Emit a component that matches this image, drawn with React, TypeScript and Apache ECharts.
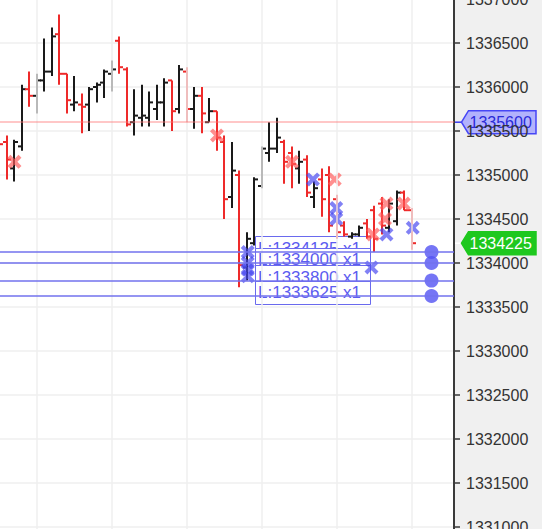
import React, { useEffect, useRef } from "react";
import * as echarts from "echarts";

// OHLC bars, left to right (bar position = array index)
const openP = [
  1335400, 1335375, 1335075, 1335325, 1335975, 1335900, 1336075, 1336175, 1336600, 1336150,
  1335800, 1335800, 1335800, 1336000, 1336050, 1336150, 1336525, 1336200, 1335600, 1335650,
  1335650, 1335750, 1335825, 1336075, 1335750, 1336175, 1335750, 1335900, 1335600, 1335725,
  1335375, 1334750, 1335000, 1333950, 1334225, 1334875, 1335250, 1335300, 1335375, 1335250,
  1335075, 1335175, 1334750, 1334950, 1335000, 1334725, 1334425, 1334300, 1334325, 1334450,
  1334600, 1334675, 1334400, 1334475, 1334800, 1334600,
];
const highP = [
  1335475, 1335450, 1335400, 1336025, 1336175, 1336150, 1336550, 1336675, 1336825, 1336150,
  1336125, 1335925, 1336000, 1336050, 1336200, 1336300, 1336575, 1336225, 1335975, 1336025,
  1335950, 1336025, 1336100, 1336075, 1336250, 1336225, 1336000, 1336000, 1335875, 1335725,
  1335450, 1335375, 1335050, 1334350, 1334975, 1335325, 1335600, 1335650, 1335400, 1335325,
  1335275, 1335225, 1334925, 1335075, 1335100, 1334775, 1334475, 1334350, 1334425, 1334500,
  1334650, 1334750, 1334725, 1334825, 1334825, 1334625,
];
const lowP = [
  1335200, 1334950, 1334925, 1335275, 1335775, 1335700, 1335950, 1336125, 1336025, 1335700,
  1335725, 1335475, 1335500, 1335825, 1335875, 1335950, 1336150, 1335550, 1335450, 1335550,
  1335550, 1335625, 1335550, 1335500, 1335700, 1335600, 1335525, 1335475, 1335600, 1335275,
  1334500, 1334625, 1333725, 1333800, 1334200, 1334850, 1335150, 1335250, 1334900, 1334850,
  1334900, 1334750, 1334625, 1334525, 1334350, 1334275, 1334300, 1334275, 1334300, 1334275,
  1334125, 1334325, 1334350, 1334425, 1334600, 1334150,
];
const closeP = [
  1335350, 1335175, 1335375, 1335975, 1335900, 1336075, 1336175, 1336575, 1336150, 1335850,
  1335825, 1335775, 1335975, 1336025, 1336175, 1336200, 1336225, 1335575, 1335675, 1335675,
  1335825, 1335825, 1336050, 1335725, 1336200, 1335750, 1335900, 1335700, 1335725, 1335425,
  1334725, 1335050, 1333975, 1334275, 1334950, 1335300, 1335300, 1335425, 1335150, 1335125,
  1335150, 1334800, 1334850, 1334725, 1334425, 1334350, 1334325, 1334325, 1334400, 1334300,
  1334275, 1334425, 1334675, 1334800, 1334600, 1334225,
];

// trade markers (x = bar position, y = price)
const redMarkX = [2, 29, 39, 44.7, 51.6, 51.4, 53.9, 49.8];
const redMarkY = [1335150, 1335450, 1335150, 1334950, 1334675, 1334500, 1334675, 1334325];
const blueMarkX = [41.8, 44.9, 44.9, 51.6, 55.1, 49.6, 33.1, 33.1, 33.1, 33.1];
const blueMarkY = [1334950, 1334625, 1334500, 1334325, 1334400, 1333950, 1334125, 1334000, 1333925, 1333850];

// pending orders
const orderPrices = [1334125, 1334000, 1333800, 1333625];
const orderLabels = ["L:1334125 x1", "L:1334000 x1", "L:1333800 x1", "L:1333625 x1"];
const orderDotX = 57.6;
const orderBoxX = 34.1;

const alertPrice = 1335600;
const alertLabel = "1335600";
const lastPrice = 1334225;
const lastLabel = "1334225";

const gridXs = [5, 15, 25, 35, 45, 55];
const xMin = 0.07;
const xMax = 60.6;
const yMin = 1330500;
const yMax = 1337500;
const yStep = 500;

const RED = "#ee2a2a";
const BLACK = "#1a1a1a";
const FONT = "'Liberation Sans', Arial, sans-serif";
const xPathSym =
  "path://M0,2.5L2.5,0L6,3.5L9.5,0L12,2.5L8.5,6L12,9.5L9.5,12L6,8.5L2.5,12L0,9.5L3.5,6Z";

export default function App() {
  const ref = useRef<HTMLDivElement>(null);

  useEffect(() => {
    if (!ref.current) return;
    const chart = echarts.init(ref.current, undefined, { renderer: "svg" });

    const ohlc = openP.map((o, i) => [i, o, closeP[i], lowP[i], highP[i]]);

    chart.setOption({
      animation: false,
      grid: {
        left: 0,
        right: 88,
        top: 0,
        bottom: 0,
        show: true,
        backgroundColor: "#ffffff",
        borderWidth: 0,
        containLabel: false,
        outerBoundsMode: "none",
      },
      xAxis: {
        type: "value",
        min: xMin,
        max: xMax,
        show: false,
        splitLine: { show: false },
      },
      yAxis: {
        type: "value",
        position: "right",
        min: yMin,
        max: yMax,
        interval: yStep,
        axisLine: { show: true, lineStyle: { color: "#3a3a3a", width: 2 } },
        axisTick: { show: true, length: 6, inside: false, lineStyle: { color: "#3a3a3a", width: 1.5 } },
        axisLabel: {
          color: "#333",
          fontSize: 16,
          fontFamily: FONT,
          margin: 12,
          formatter: (v: number) => String(v),
        },
        splitLine: { show: true, lineStyle: { color: "#efefef", width: 1.5 } },
      },
      series: [
        {
          type: "line",
          data: [],
          z: 1,
          silent: true,
          markLine: {
            silent: true,
            symbol: "none",
            label: { show: false },
            lineStyle: { color: "#efefef", width: 1.5, type: "solid" },
            data: gridXs.map((x) => ({ xAxis: x })),
          },
        },
        {
          type: "line",
          data: [],
          z: 2,
          silent: true,
          markLine: {
            silent: true,
            symbol: "none",
            label: { show: false },
            lineStyle: { color: "rgba(255,120,120,0.55)", width: 1.5, type: "solid" },
            data: [{ yAxis: alertPrice }],
          },
        },
        {
          type: "line",
          data: [],
          z: 2,
          silent: true,
          markLine: {
            silent: true,
            symbol: "none",
            label: { show: false },
            lineStyle: { color: "#7272ee", width: 1.6, type: "solid" },
            data: orderPrices.map((p) => ({ yAxis: p })),
          },
        },
        {
          type: "custom",
          z: 3,
          data: ohlc,
          encode: { x: 0, y: [1, 2, 3, 4] },
          renderItem: (params: any, api: any) => {
            const x = api.value(0);
            const o = api.coord([x, api.value(1)]);
            const c = api.coord([x, api.value(2)]);
            const l = api.coord([x, api.value(3)]);
            const h = api.coord([x, api.value(4)]);
            const color = api.value(2) < api.value(1) ? RED : BLACK;
            const px = Math.round(o[0]);
            const st = { stroke: color, lineWidth: 2 };
            return {
              type: "group",
              children: [
                { type: "line", shape: { x1: px, y1: h[1], x2: px, y2: l[1] }, style: st },
                { type: "line", shape: { x1: px - 4, y1: o[1], x2: px, y2: o[1] }, style: st },
                { type: "line", shape: { x1: px, y1: c[1], x2: px + 4, y2: c[1] }, style: st },
              ],
            };
          },
        },
        {
          type: "scatter",
          z: 4,
          symbol: xPathSym,
          symbolSize: 14,
          itemStyle: { color: "rgba(255,90,90,0.85)" },
          data: redMarkX.map((x, i) => [x, redMarkY[i]]),
        },
        {
          type: "scatter",
          z: 4,
          symbol: xPathSym,
          symbolSize: 14,
          itemStyle: { color: "rgba(70,70,240,0.85)" },
          data: blueMarkX.map((x, i) => [x, blueMarkY[i]]),
        },
        {
          type: "scatter",
          z: 4,
          symbol: "circle",
          symbolSize: 14,
          itemStyle: { color: "#5252f2" },
          data: orderPrices.map((p) => [orderDotX, p]),
        },
      ],
    });

    const yPix = (v: number) => chart.convertToPixel({ yAxisIndex: 0 }, v) as number;
    const xPix = (v: number) => chart.convertToPixel({ xAxisIndex: 0 }, v) as number;
    const axisX = xPix(xMax);
    const boxX = xPix(orderBoxX);

    const graphics: any[] = [];
    orderPrices.forEach((p, i) => {
      const y = yPix(p);
      graphics.push({
        type: "group",
        z: 10,
        children: [
          {
            type: "rect",
            shape: { x: Math.round(boxX) + 0.5, y: Math.round(y - 15.5) + 0.5, width: 115, height: 23 },
            style: { fill: "#ffffff", stroke: "#6a6aee", lineWidth: 1 },
          },
          {
            type: "text",
            x: Math.round(boxX) + 3,
            y: y - 3.5,
            style: {
              text: orderLabels[i],
              fill: "#5c5cf0",
              fontSize: 17,
              fontFamily: FONT,
              verticalAlign: "middle",
              align: "left",
            },
          },
        ],
      });
    });

    const tag = (price: number, label: string, fill: string, stroke: string, textColor: string, conn: string) => {
      const yc = yPix(price);
      const tipX = axisX + 7.5;
      const right = axisX + 82;
      const hh = 11.5;
      return {
        type: "group",
        z: 12,
        children: [
          {
            type: "line",
            shape: { x1: axisX, y1: yc, x2: tipX, y2: yc },
            style: { stroke: conn, lineWidth: 1.5 },
          },
          {
            type: "polygon",
            shape: {
              points: [
                [tipX, yc],
                [tipX + 7, yc - hh],
                [right, yc - hh],
                [right, yc + hh],
                [tipX + 7, yc + hh],
              ],
            },
            style: { fill, stroke, lineWidth: 1.5 },
          },
          {
            type: "text",
            x: tipX + 8,
            y: yc,
            style: {
              text: label,
              fill: textColor,
              fontSize: 16,
              fontFamily: FONT,
              verticalAlign: "middle",
              align: "left",
            },
          },
        ],
      };
    };
    graphics.push(tag(alertPrice, alertLabel, "#b2b2fc", "#4646f6", "#2a2ad8", "#3a3aee"));
    graphics.push(tag(lastPrice, lastLabel, "#1ec81e", "#1ec81e", "#ffffff", "#ffffff"));

    chart.setOption({ graphic: graphics });

    return () => chart.dispose();
  }, []);

  return (
    <div
      ref={ref}
      style={{
        position: "fixed",
        left: 0,
        top: -45,
        width: 542,
        height: 616,
        background: "#f0f0f0",
      }}
    />
  );
}
